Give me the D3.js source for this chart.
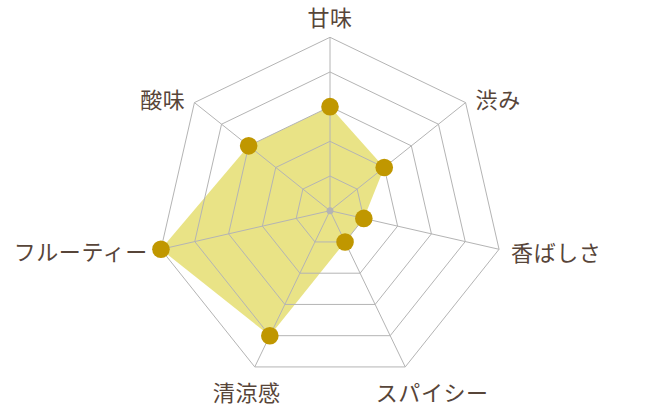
<!DOCTYPE html>
<html>
<head>
<meta charset="utf-8">
<script src="https://cdn.jsdelivr.net/npm/d3@7"></script>
<style>
  body { margin: 0; background: #fff; }
  svg { display: block; }
  .label { font-family: "Noto Sans CJK JP", "Noto Sans", sans-serif; font-size: 22px; fill: #574539; letter-spacing: 0.6px; }
</style>
</head>
<body>
<div id="chart-area"></div>
<script>
const axes = ["甘味", "渋み", "香ばしさ", "スパイシー", "清涼感", "フルーティー", "酸味"];
const scores = [3, 2, 1, 1, 4, 5, 3];
const levels = [1, 2, 3, 4, 5];

const width = 660;
const height = 406;
const cx = 330;
const cy = 210.7;
const radius = 173.4;

// label placement relative to each outer vertex: [dx, dy, anchor]
const labelPos = [
  [0, -21, "middle"],
  [10, -5, "start"],
  [12, 2, "start"],
  [27, 24, "middle"],
  [-8, 24, "middle"],
  [-13, 1, "end"],
  [-9, -5, "end"]
];

const svg = d3.select("#chart-area")
  .append("svg")
  .attr("width", width)
  .attr("height", height);

const g = svg.append("g")
  .attr("transform", `translate(${cx}, ${cy})`);

const r = d3.scaleLinear().domain([0, 5]).range([0, radius]);
const angle = i => i * 2 * Math.PI / axes.length;
const pt = (i, v) => [Math.sin(angle(i)) * r(v), -Math.cos(angle(i)) * r(v)];

const line = d3.line();

// filled area
g.append("path")
  .attr("d", line(scores.map((v, i) => pt(i, v))) + "Z")
  .attr("fill", "#e9e386");

// grid rings
g.selectAll(".ring")
  .data(levels)
  .enter().append("path")
  .attr("class", "ring")
  .attr("d", lv => line(axes.map((a, i) => pt(i, lv))) + "Z")
  .attr("fill", "none")
  .attr("stroke", "#b4b4b4")
  .attr("stroke-width", 1);

// spokes
g.selectAll(".spoke")
  .data(axes)
  .enter().append("line")
  .attr("class", "spoke")
  .attr("x1", 0).attr("y1", 0)
  .attr("x2", (d, i) => pt(i, 5)[0])
  .attr("y2", (d, i) => pt(i, 5)[1])
  .attr("stroke", "#b4b4b4")
  .attr("stroke-width", 1);

g.append("circle").attr("r", 3.5).attr("fill", "#b4b4b4");

// points
g.selectAll(".dot")
  .data(scores)
  .enter().append("circle")
  .attr("class", "dot")
  .attr("cx", (v, i) => pt(i, v)[0])
  .attr("cy", (v, i) => pt(i, v)[1])
  .attr("r", 8.8)
  .attr("fill", "#c09700");

// labels
g.selectAll(".label")
  .data(axes)
  .enter().append("text")
  .attr("class", "label")
  .attr("x", (d, i) => pt(i, 5)[0] + labelPos[i][0])
  .attr("y", (d, i) => pt(i, 5)[1] + labelPos[i][1])
  .attr("text-anchor", (d, i) => labelPos[i][2])
  .attr("dominant-baseline", "central")
  .text(d => d);
</script>
</body>
</html>
